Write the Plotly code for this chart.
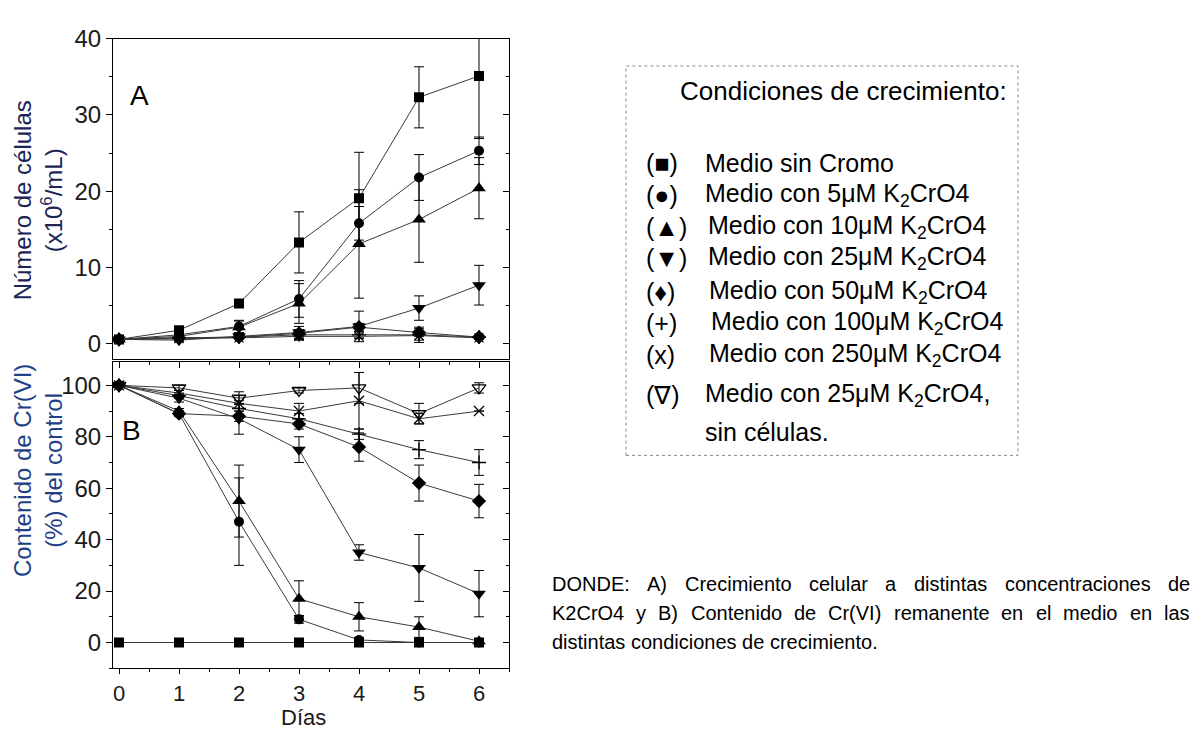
import plotly.graph_objects as go

W, H = 1198, 731

days = [0, 1, 2, 3, 4, 5, 6]

# Panel A: cell number (x10^6/mL)
a_sq = [0.6, 1.8, 5.3, 13.3, 19.1, 32.3, 35.1]
a_sq_err = [0.2, 0.3, 0.5, 4.0, 6.0, 4.0, 8.2]
a_ci = [0.6, 1.2, 2.3, 5.9, 15.8, 21.8, 25.3]
a_ci_err = [0.2, 0.3, 0.8, 2.4, 2.2, 3.0, 1.8]
a_tu = [0.6, 1.0, 2.2, 5.3, 13.1, 16.3, 20.4]
a_tu_err = [0.2, 0.3, 0.8, 2.6, 7.1, 5.6, 4.0]
a_td = [0.6, 0.5, 1.0, 1.5, 2.3, 4.7, 7.7]
a_td_err = [0.2, 0.2, 0.3, 0.8, 2.0, 1.6, 2.6]
a_di = [0.6, 0.8, 0.9, 1.4, 2.2, 1.5, 0.9]
a_di_err = [0.2, 0.2, 0.3, 0.5, 0.5, 0.5, 0.2]
a_pl = [0.6, 0.8, 0.9, 1.2, 1.2, 1.2, 0.9]
a_pl_err = [0.2, 0.2, 0.3, 0.6, 0.4, 1.0, 0.2]
a_xx = [0.6, 0.7, 0.8, 1.0, 1.0, 1.1, 0.8]
a_xx_err = [0.2, 0.2, 0.2, 0.5, 0.3, 0.6, 0.2]

# Panel B: Cr(VI) content (% of control)
b_sq = [0, 0, 0, 0, 0, 0, 0]
b_ci = [100, 89, 47, 9, 1, 0, 0]
b_ci_err = [0, 1, 17, 1.5, 1, 0.5, 0.5]
b_tu = [100, 90, 55, 17, 10, 6, 0.5]
b_tu_err = [0, 1, 14, 7, 5.5, 4, 0.5]
b_td = [100, 95, 87, 75, 35, 29, 19]
b_td_err = [0, 1.5, 6, 5, 3, 13, 9]
b_di = [100, 89, 88, 85, 76, 62, 55]
b_di_err = [0, 1, 2, 2, 5.5, 7, 6.5]
b_pl = [100, 96, 91, 87, 81, 75, 70]
b_pl_err = [0, 1, 3, 2, 2, 3.5, 5]
b_xx = [100, 97, 93, 90, 94, 87, 90]
b_xx_err = [0, 1, 3, 3, 11, 2, 0]
b_nc = [100, 99, 95, 98, 99, 89, 99]
b_nc_err = [0, 1, 2.5, 1, 6, 4, 2]

legend_symbols = ["(■)", "(●)", "(▲)", "(▼)", "(♦)", "(+)", "(x)", "(∇)"]
legend_labels = [
    "Medio sin Cromo",
    "Medio con 5μM K<sub>2</sub>CrO4",
    "Medio con 10μM K<sub>2</sub>CrO4",
    "Medio con 25μM K<sub>2</sub>CrO4",
    "Medio con 50μM K<sub>2</sub>CrO4",
    "Medio con 100μM K<sub>2</sub>CrO4",
    "Medio con 250μM K<sub>2</sub>CrO4",
    "Medio con 25μM K<sub>2</sub>CrO4,",
]
paragraph_lines = [
    "DONDE: A) Crecimiento celular a distintas concentraciones de",
    "K2CrO4 y  B) Contenido de Cr(VI) remanente en el medio en las",
    "distintas condiciones de crecimiento.",
]

FONT = "Arial, Liberation Sans, sans-serif"
NARROW = "Liberation Sans Narrow, Arial Narrow, Liberation Sans, Arial, sans-serif"

def px(x):
    return x / W

def py(y):
    return 1 - y / H

fig = go.Figure()

LINE = dict(color="#3a3a3a", width=1)

def add_series(y, err, symbol, size, xa, ya, open_=False):
    marker = dict(symbol=symbol, size=size, color="black",
                  line=dict(color="black", width=1.3 if open_ else 0))
    fig.add_trace(go.Scatter(
        x=days, y=y, mode="lines+markers", line=LINE, marker=marker,
        error_y=dict(type="data", array=err, visible=err is not None,
                     color="black", thickness=1, width=5),
        xaxis=xa, yaxis=ya, showlegend=False, hoverinfo="skip"))

# Panel A
add_series(a_xx, a_xx_err, "x-thin", 9, "x", "y", True)
add_series(a_pl, a_pl_err, "cross-thin", 10, "x", "y", True)
add_series(a_di, a_di_err, "diamond", 11, "x", "y")
add_series(a_td, a_td_err, "triangle-down", 12, "x", "y")
add_series(a_tu, a_tu_err, "triangle-up", 12, "x", "y")
add_series(a_ci, a_ci_err, "circle", 10, "x", "y")
add_series(a_sq, a_sq_err, "square", 10, "x", "y")

# Panel B
add_series(b_nc, b_nc_err, "triangle-down-open", 12, "x2", "y2", True)
add_series(b_xx, b_xx_err, "x-thin", 10, "x2", "y2", True)
add_series(b_pl, b_pl_err, "cross-thin", 10, "x2", "y2", True)
add_series(b_di, b_di_err, "diamond", 11, "x2", "y2")
add_series(b_td, b_td_err, "triangle-down", 12, "x2", "y2")
add_series(b_tu, b_tu_err, "triangle-up", 12, "x2", "y2")
add_series(b_ci, b_ci_err, "circle", 10, "x2", "y2")
add_series(b_sq, None, "square", 10, "x2", "y2")

# empty traces so the mirror axes (inside ticks) are drawn
for xa, ya in [("x", "y3"), ("x3", "y2"), ("x2", "y4")]:
    fig.add_trace(go.Scatter(x=[None], y=[None], xaxis=xa, yaxis=ya,
                             showlegend=False, hoverinfo="skip"))

xdom = [px(113), px(509)]
ydomA = [py(352), py(25)]
ydomB = [py(667), py(355)]
XR = [-0.1, 6.5]
AR = [-2, 40]
BR = [-10, 109]
tickfont = dict(family=NARROW, size=24, color="#1a1a1a")
xtickfont = dict(family=NARROW, size=22, color="#1a1a1a")

common = dict(showgrid=False, zeroline=False, linecolor="black", linewidth=1,
              tickcolor="black", tickwidth=1)

fig.update_layout(
    width=W, height=H, margin=dict(l=0, r=0, t=0, b=0),
    paper_bgcolor="white", plot_bgcolor="white",
    xaxis=dict(domain=xdom, range=XR, anchor="y", showline=True, mirror=True,
               ticks="", showticklabels=False, **common),
    yaxis=dict(domain=ydomA, range=AR, anchor="x", showline=True, mirror=True,
               ticks="outside", ticklen=6, tick0=0, dtick=10, tickfont=tickfont,
               minor=dict(dtick=5, tick0=0, ticks="outside", ticklen=3, tickcolor="black"),
               **common),
    yaxis3=dict(range=AR, overlaying="y", anchor="x", side="right", showline=False,
                ticks="inside", ticklen=6, tick0=0, dtick=10, showticklabels=False,
                minor=dict(dtick=5, tick0=0, ticks="inside", ticklen=3, tickcolor="black"),
                **common),
    xaxis2=dict(domain=xdom, range=XR, anchor="y2", showline=True, mirror=True,
                ticks="outside", ticklen=5, tick0=0, dtick=1, tickfont=xtickfont,
                minor=dict(dtick=0.5, tick0=0, ticks="outside", ticklen=3, tickcolor="black"),
                **common),
    xaxis3=dict(range=XR, overlaying="x2", anchor="y2", side="top", showline=False,
                ticks="inside", ticklen=6, tick0=0, dtick=1, showticklabels=False,
                minor=dict(dtick=0.5, tick0=0, ticks="inside", ticklen=3, tickcolor="black"),
                **common),
    yaxis2=dict(domain=ydomB, range=BR, anchor="x2", showline=True, mirror=True,
                ticks="outside", ticklen=6, tick0=0, dtick=20, tickfont=tickfont,
                minor=dict(dtick=10, tick0=0, ticks="outside", ticklen=3, tickcolor="black"),
                **common),
    yaxis4=dict(range=BR, overlaying="y2", anchor="x2", side="right", showline=False,
                ticks="inside", ticklen=6, tick0=0, dtick=20, showticklabels=False,
                minor=dict(dtick=10, tick0=0, ticks="inside", ticklen=3, tickcolor="black"),
                **common),
)

ann = []

def text(x, y, s, size, color="black", xanchor="left", angle=0, family=FONT):
    ann.append(dict(x=px(x), y=py(y), xref="paper", yref="paper", text=s,
                    showarrow=False, xanchor=xanchor, yanchor="middle",
                    textangle=angle, font=dict(family=family, size=size, color=color)))

# axis titles
text(38, 190, "Número de células<br>(x10<sup>6</sup>/mL)", 24, "#1c2456", "center", -90)
text(38, 466, "Contenido de Cr(VI)<br>(%) del control", 24, "#233f86", "center", -90)
ann.append(dict(x=px(303), y=0, xref="paper", yref="paper", text="Días",
                showarrow=False, xanchor="center", yanchor="bottom", borderpad=0,
                font=dict(family=FONT, size=22, color="#1a1a1a")))
# panel letters
text(128, 83, "A", 28)
text(120, 425, "B", 28)

# legend box
fig.add_shape(type="rect", xref="paper", yref="paper",
              x0=px(626), x1=px(1018), y0=py(450), y1=py(53),
              line=dict(color="#8a8a8a", width=1, dash="dot"))
text(678, 79, "Condiciones de crecimiento:", 26)
ys = [152, 185, 217, 249, 283, 315, 348, 388]
xs_lab = [703, 703, 706, 706, 707, 709, 707, 703]
for sym, lab, yy, xl in zip(legend_symbols, legend_labels, ys, xs_lab):
    text(644, yy, sym, 25)
    text(xl, yy, lab, 25)
text(703, 426, "sin células.", 25)

# justified paragraph (Arial metrics)
AW = {' ': 278, '(': 333, ')': 333, '.': 278, ':': 278, 'A': 667, 'B': 667, 'C': 722,
      'D': 722, 'E': 667, 'K': 667, 'N': 722, 'O': 778, 'V': 667, 'I': 278, 'a': 556,
      'c': 500, 'd': 556, 'e': 556, 'i': 222, 'l': 222, 'm': 833, 'n': 556, 'o': 556,
      'r': 333, 's': 500, 't': 278, 'u': 556, 'y': 500, '2': 556, '4': 556}
PS = 20
def wlen(w):
    return sum(AW.get(c, 556) for c in w) * PS / 1000.0

x_left, x_right = 552, 1190
line_y = [581, 611, 640]
for i, (line, yy) in enumerate(zip(paragraph_lines, line_y)):
    if i < 2:
        words = line.split()
        tot = sum(wlen(w) for w in words)
        gap = (x_right - x_left - tot) / (len(words) - 1)
        xc = x_left
        for w in words:
            text(xc - 2, yy, w, PS)
            xc += wlen(w) + gap
    else:
        text(x_left - 2, yy, line, PS)

fig.update_layout(annotations=ann)
fig.write_html("out.html")
